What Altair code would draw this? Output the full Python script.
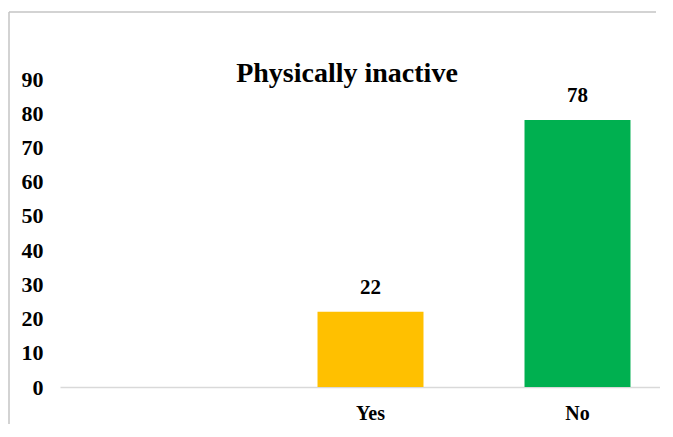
import altair as alt
import pandas as pd

categories = ["", "Yes", "No"]
values = [None, 22, 78]
colors = ["#FFFFFF", "#FFC000", "#00B050"]
y_ticks = [0, 10, 20, 30, 40, 50, 60, 70, 80, 90]
title_text = "Physically inactive"

df = pd.DataFrame({"cat": categories, "val": values, "color": colors})

FONT = "Liberation Serif"

x_enc = alt.X(
    "cat:N",
    sort=categories,
    scale=alt.Scale(domain=categories, range=[0, 621], paddingInner=0.488, paddingOuter=0.244),
    axis=alt.Axis(
        title=None,
        labelAngle=0,
        ticks=False,
        domainColor="#d9d9d9",
        domainWidth=1.5,
        labelFont=FONT,
        labelFontWeight="bold",
        labelFontSize=20,
        labelColor="#000000",
        labelPadding=16,
    ),
)
y_enc = alt.Y(
    "val:Q",
    scale=alt.Scale(domain=[0, 90], nice=False),
    axis=alt.Axis(
        title=None,
        values=y_ticks,
        grid=False,
        domain=False,
        ticks=False,
        labelFont=FONT,
        labelFontWeight="bold",
        labelFontSize=22,
        labelColor="#000000",
        labelPadding=17,
    ),
)

base = alt.Chart(df)

bars = base.mark_bar().encode(
    x=x_enc,
    y=y_enc,
    color=alt.Color("color:N", scale=None, legend=None),
)

labels = base.mark_text(
    baseline="alphabetic", dy=-18, font=FONT, fontWeight="bold", fontSize=21, color="#000000"
).encode(x=x_enc, y=y_enc, text=alt.Text("val:Q"))

one = alt.Chart(pd.DataFrame({"t": [title_text]}))

title = one.mark_text(
    font=FONT, fontWeight="bold", fontSize=28, color="#000000", baseline="alphabetic", align="center"
).encode(x=alt.value(287), y=alt.value(3), text="t:N")

frame_v = one.mark_rule(color="#c4c4c4", strokeWidth=1.5).encode(
    x=alt.value(-51), y=alt.value(-67), y2=alt.value(346)
)
frame_h = one.mark_rule(color="#c4c4c4", strokeWidth=1.5).encode(
    x=alt.value(-51), x2=alt.value(596), y=alt.value(-67)
)

chart = (
    alt.layer(frame_v, frame_h, bars, labels, title)
    .properties(
        width=600,
        height=308,
        autosize=alt.AutoSizeParams(type="none"),
        padding={"left": 52, "top": 71, "right": 0, "bottom": 37},
    )
    .configure(background="#ffffff")
    .configure_view(stroke=None, strokeWidth=0)
)

chart.save("out.html", embed_options={"renderer": "svg", "actions": False})
